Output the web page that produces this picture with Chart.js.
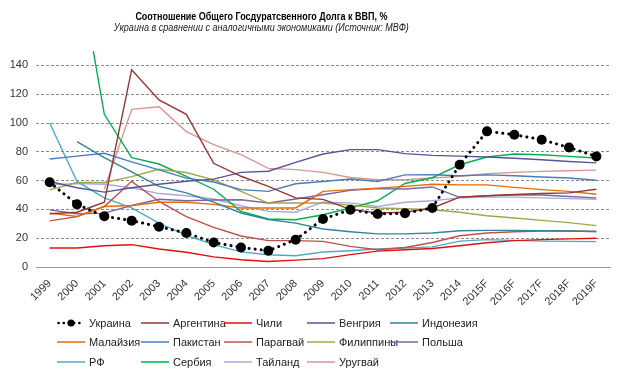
<!DOCTYPE html>
<html><head><meta charset="utf-8">
<script src="https://cdn.jsdelivr.net/npm/chart.js@4"></script>
<style>
html,body{margin:0;padding:0;background:#fff;}
#wrap{position:relative;width:624px;height:386px;overflow:hidden;font-family:"Liberation Sans",Arial,sans-serif;}
canvas{position:absolute;left:0;top:0;}
.t{position:absolute;white-space:nowrap;transform-origin:center center;line-height:1;}
#title{font-weight:bold;font-size:11.5px;color:#000;top:11px;}
#sub{font-style:italic;font-size:11px;color:#222;top:22px;}
.lg{position:absolute;height:14px;font-size:11px;color:#222;white-space:nowrap;display:flex;align-items:center;}
.lg svg{margin-right:4px;}
</style></head>
<body>
<div id="wrap">
<canvas id="c" width="624" height="386"></canvas>
<div class="t" id="title">Соотношение Общего Госдуратсвенного Долга к ВВП, %</div>
<div class="t" id="sub">Украина в сравнении с аналогичными экономиками (Источник: МВФ)</div>
<div id="legend"></div>
</div>
<script>
const categories = ['1999','2000','2001','2002','2003','2004','2005','2006','2007','2008','2009','2010','2011','2012','2013','2014','2015F','2016F','2017F','2018F','2019F'];
const yTicks = [0,20,40,60,80,100,120,140];

const ukraine     = [58.8,43.5,35.2,32.2,28,23.6,17,13.6,11.3,19,33.3,39.8,36.8,37.3,41,71,94.2,91.9,88.4,83,76.8];
const argentina   = [37,38,45,137,116,106,72,63,56,48,47,40,37.5,38,41,48.5,49.5,50.3,51,51.5,54];
const chile       = [13.2,13.2,14.8,15.5,12.5,10.2,7,5,3.8,4.8,5.8,8.6,11,12,12.8,14.8,16.8,18.3,19,19.5,20];
const hungary     = [59.4,55,52,55,57.5,59.5,61,65.7,66.5,72.6,78.5,81.5,81.5,78.7,77.5,77,76.4,75.5,74.5,73.3,72.3];
const indonesia   = [null,87,76,66,56,51.5,45,37.5,33,30.5,26.4,24.5,23,23,23.6,25.2,25.4,25.4,25.2,25,24.7];
const malaysia    = [37.4,35.1,42,42.7,45,45,43.5,41,41,41,52.5,53.7,54.8,56,57.5,57,57,55.3,53.7,52.5,50.5];
const pakistan    = [75,77,79,73,67.4,61.7,59,53.7,52.5,57.8,59.4,61.1,59.4,64,64.1,63.4,64,63.4,62.5,61.8,60.2];
const paraguay    = [32,35,42,59.5,45.5,35,27.5,21.5,18.3,18.3,17.8,14.3,12,13.5,17,21.7,23.6,24.5,25,25,24.7];
const philippines = [53.6,58.7,58.7,62.8,67.9,65.6,60.5,52.5,44.4,44.4,44.4,43,41,40.5,39.8,38,35.6,34,32.4,30.8,28.7];
const poland      = [39.7,37,37.4,42.7,47,46,46.5,46.7,44.4,47.2,50.2,53.2,54.4,54.2,55.6,48.4,49.5,50,50,49,48];
const russia      = [100,59.4,48,41,30.5,22,15.5,10.5,8.5,7.8,10.4,11.3,12.5,13.2,14,18,19,18.5,18,17.8,17.6];
const serbia      = [null,215,106,76,71.5,63,54,38.6,33.3,32.8,36.3,41,46,58,62,71,76.4,78.5,78,76.8,75.7];
const thailand    = [57,58,57.5,55,51,49.5,47.2,42.5,38.6,38,45,44.5,42,45,46,48,48.5,48.5,48,47.5,47];
const uruguay     = [null,null,54,109.5,111.3,94,85,78,68.5,67.6,65.7,62.2,60.6,60.6,61.8,62.9,64.8,65.7,66.4,66.8,67.3];

const seriesNames = ['Украина','Аргентина','Чили','Венгрия','Индонезия','Малайзия','Пакистан','Парагвай','Филиппины','Польша','РФ','Сербия','Тайланд','Уругвай'];
const seriesData = [ukraine,argentina,chile,hungary,indonesia,malaysia,pakistan,paraguay,philippines,poland,russia,serbia,thailand,uruguay];
const seriesColors = ['#000000','#953735','#E01010','#555599','#31859C','#E46C0A','#4A7EBB','#C0504D','#9FA84C','#7B66A0','#4BACC6','#00B050','#AAAAD6','#D99694'];

const datasets = seriesNames.map((n,i)=>{
  if(i===0){
    return {label:n,data:seriesData[i],borderColor:'#000',backgroundColor:'#000',borderWidth:3,
      borderDash:[0.1,6],borderCapStyle:'round',pointRadius:5,pointBackgroundColor:'#000',pointBorderWidth:0,tension:0};
  }
  return {label:n,data:seriesData[i],borderColor:seriesColors[i],backgroundColor:seriesColors[i],borderWidth:1.4,pointRadius:0,tension:0,spanGaps:false};
});

new Chart(document.getElementById('c'),{
  type:'line',
  data:{labels:categories,datasets},
  options:{
    responsive:false,animation:false,
    layout:{padding:{top:51,right:14,bottom:74,left:0}},
    plugins:{legend:{display:false},tooltip:{enabled:false},title:{display:false}},
    scales:{
      x:{
        offset:true,
        grid:{display:false},
        border:{display:true,color:'#999',width:1},
        ticks:{autoSkip:false,maxRotation:45,minRotation:45,padding:2,color:'#333',font:{family:'"Liberation Sans", Arial, sans-serif',size:11}},
        afterFit:s=>{s.height=45;}
      },
      y:{
        min:0,max:150,bounds:'data',
        ticks:{stepSize:20,padding:8,color:'#333',font:{family:'"Liberation Sans", Arial, sans-serif',size:11}},
        afterBuildTicks:s=>{s.ticks=yTicks.map(v=>({value:v}));},
        grid:{drawTicks:false,color:c=>c.tick&&c.tick.value===0?'rgba(0,0,0,0)':'#8c8c8c',lineWidth:1},
        border:{display:false,dash:[3,2]},
        afterFit:s=>{s.width=36;}
      }
    }
  }
});

function fit(id,cx,W){
  const el=document.getElementById(id);
  const w=el.getBoundingClientRect().width;
  el.style.left=(cx-w/2)+'px';
  el.style.transform='scaleX('+(W/w)+')';
}
fit('title',261,252);
fit('sub',261,295);

const colX=[57,141,224,307,390];
const rowY=[322.7,342.3,362];
const lg=document.getElementById('legend');
seriesNames.forEach((n,i)=>{
  const d=document.createElement('div');
  d.className='lg';
  d.style.left=colX[i%5]+'px';
  d.style.top=(rowY[Math.floor(i/5)]-7)+'px';
  let svg;
  if(i===0){
    svg='<svg width="28" height="10"><line x1="1.5" y1="5" x2="27" y2="5" stroke="#000" stroke-width="2.6" stroke-linecap="round" stroke-dasharray="0.1 5.1"/><circle cx="14" cy="5" r="3.6" fill="#000"/></svg>';
  } else {
    svg='<svg width="28" height="10"><line x1="0" y1="5" x2="28" y2="5" stroke="'+seriesColors[i]+'" stroke-width="1.5"/></svg>';
  }
  d.innerHTML=svg+'<span>'+n+'</span>';
  lg.appendChild(d);
});
</script>
</body></html>
